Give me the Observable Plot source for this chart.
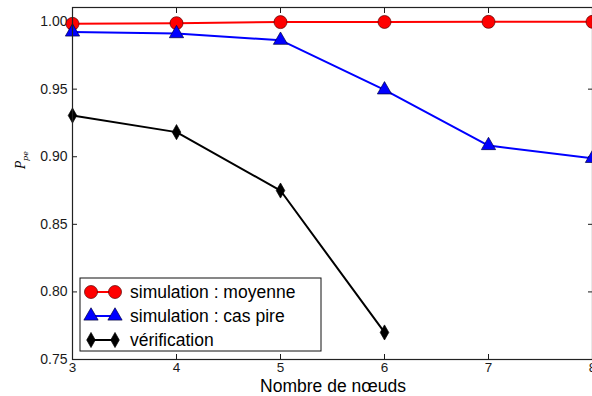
<!DOCTYPE html>
<html><head><meta charset="utf-8">
<script src="https://cdn.jsdelivr.net/npm/d3@7"></script>
<script src="https://cdn.jsdelivr.net/npm/@observablehq/plot@0.6"></script>
<style>
body{margin:0;background:#fff;}
#chart svg{font-family:"Liberation Sans",Arial,sans-serif;overflow:visible;}
</style>
</head><body><div id="chart"></div>
<script>
const nodes = [3, 4, 5, 6, 7, 8];
const moyenne = [0.9983, 0.9988, 0.9996, 0.9997, 0.9998, 0.9998];
const casPire = [0.9923, 0.9911, 0.9862, 0.9495, 0.9083, 0.8988];
const verifNodes = [3, 4, 5, 6];
const verification = [0.9305, 0.9182, 0.8750, 0.7700];
const xTicks = [3, 4, 5, 6, 7, 8];
const yTicks = [0.75, 0.80, 0.85, 0.90, 0.95, 1.00];
const seriesNames = ["simulation : moyenne", "simulation : cas pire", "vérification"];
const seriesColors = ["#ff0000", "#0000ff", "#000000"];
const xLabel = "Nombre de nœuds";

const thinDiamond = {
  draw(ctx, size) {
    const r = Math.sqrt(size / Math.PI);
    const h = r * 1.2, w = r * 0.68;
    ctx.moveTo(0, -h); ctx.lineTo(w, 0); ctx.lineTo(0, h); ctx.lineTo(-w, 0); ctx.closePath();
  }
};

const sMoy = nodes.map((x, i) => ({x, y: moyenne[i]}));
const sPire = nodes.map((x, i) => ({x, y: casPire[i]}));
const sVer = verifNodes.map((x, i) => ({x, y: verification[i]}));

const W = 592, H = 396;
const chart = Plot.plot({
  width: W, height: H,
  marginLeft: 72, marginRight: 0, marginTop: 7, marginBottom: 37,
  x: {domain: [3, 8]},
  y: {domain: [0.75, 1.0104]},
  style: {fontSize: "13.5px", color: "#1a1a1a"},
  marks: [
    Plot.axisX(xTicks, {anchor: "bottom", tickSize: -5, tickPadding: 8, fontSize: 13.5, label: null, tickFormat: d => String(d)}),
    Plot.axisX(xTicks, {anchor: "top", tickSize: -5, label: null, tickFormat: () => ""}),
    Plot.axisY(yTicks, {anchor: "left", tickSize: -5, tickPadding: 10, fontSize: 14, label: null, tickFormat: d3.format(".2f")}),
    Plot.axisY(yTicks, {anchor: "right", tickSize: -5, label: null, tickFormat: () => ""}),
    Plot.line(sMoy, {x: "x", y: "y", stroke: seriesColors[0], strokeWidth: 2}),
    Plot.line(sPire, {x: "x", y: "y", stroke: seriesColors[1], strokeWidth: 2}),
    Plot.line(sVer, {x: "x", y: "y", stroke: seriesColors[2], strokeWidth: 2}),
    Plot.dot(sMoy, {x: "x", y: "y", r: 6.5, fill: seriesColors[0], stroke: "#550000", strokeWidth: 0.7}),
    Plot.dot(sPire, {x: "x", y: "y", r: 5.3, symbol: "triangle", fill: seriesColors[1], stroke: "#000044", strokeWidth: 0.7}),
    Plot.dot(sVer, {x: "x", y: "y", r: 6.3, symbol: thinDiamond, fill: seriesColors[2], stroke: "#000", strokeWidth: 0.7}),
    Plot.frame({stroke: "#222", strokeWidth: 1.2})
  ]
});
document.getElementById("chart").appendChild(chart);

const svg = d3.select(chart);
// axis titles
svg.append("text").attr("x", 333).attr("y", 391.5).attr("text-anchor", "middle")
  .attr("font-size", 17.5).attr("fill", "#000").text(xLabel);
const yl = svg.append("text").attr("transform", "translate(25,160) rotate(-90)").attr("text-anchor", "middle")
  .attr("font-family", "DejaVu Serif, serif").attr("font-style", "italic").attr("font-size", 12).attr("fill", "#000");
yl.append("tspan").text("P");
yl.append("tspan").attr("font-size", 8).attr("dy", 3).text("pe");

// legend
const lg = svg.append("g").attr("text-anchor", "start");
lg.append("rect").attr("x", 80).attr("y", 278).attr("width", 241).attr("height", 73)
  .attr("fill", "#fff").attr("stroke", "#111").attr("stroke-width", 1);
const symbols = [d3.symbolCircle, d3.symbolTriangle, thinDiamond];
const sizes = [Math.PI * 6.5 * 6.5, Math.PI * 5.3 * 5.3, Math.PI * 6.3 * 6.3];
const strokes = ["#550000", "#000044", "#000"];
seriesNames.forEach((name, i) => {
  const cy = 292 + i * 24;
  lg.append("line").attr("x1", 90).attr("x2", 116).attr("y1", cy).attr("y2", cy)
    .attr("stroke", seriesColors[i]).attr("stroke-width", 2);
  [91, 115].forEach(cx => {
    lg.append("path").attr("d", d3.symbol(symbols[i], sizes[i])()).attr("transform", `translate(${cx},${cy})`)
      .attr("fill", seriesColors[i]).attr("stroke", strokes[i]).attr("stroke-width", 0.7);
  });
  lg.append("text").attr("x", 130).attr("y", cy).attr("dy", "0.35em").attr("font-size", 17.5)
    .attr("text-anchor", "start").attr("fill", "#000").text(name);
});
</script>
</body></html>
